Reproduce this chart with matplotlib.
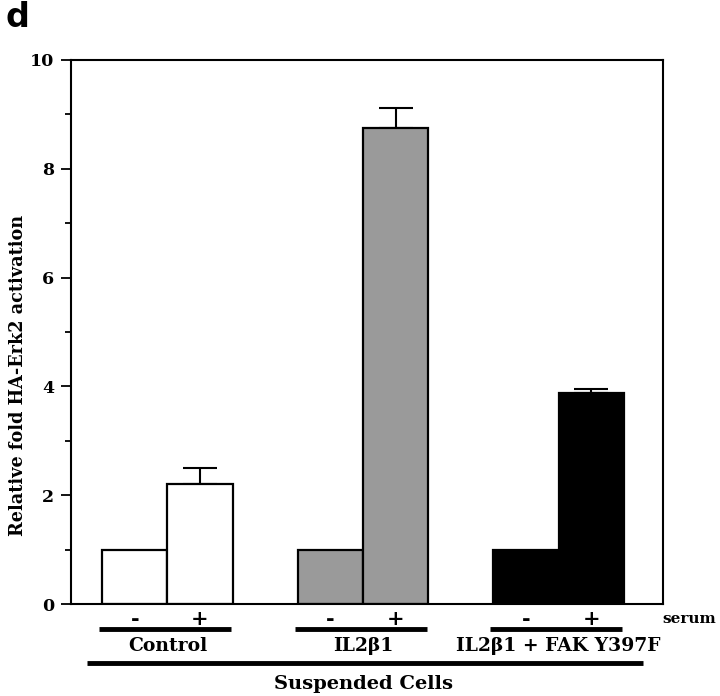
import numpy as np
import matplotlib.pyplot as plt
import matplotlib.transforms as mtransforms

groups = ["Control", "IL2\u03b21", "IL2\u03b21 + FAK Y397F"]
serum = ["-", "+", "-", "+", "-", "+"]
values = [1.0, 2.2, 1.0, 8.75, 1.0, 3.88]
err_up = [0.0, 0.3, 0.0, 0.37, 0.0, 0.07]
colors = ["white", "white", "#9a9a9a", "#9a9a9a", "black", "black"]
positions = [1, 2, 4, 5, 7, 8]

plt.rcParams['font.family'] = ['DejaVu Serif']
plt.rcParams['font.weight'] = 'bold'

fig = plt.figure(figsize=(7.2, 6.96), dpi=100)
ax = fig.add_axes([0.0986, 0.132, 0.822, 0.782])

for i in range(len(values)):
    if err_up[i] > 0:
        ax.errorbar(positions[i], values[i], yerr=[[0], [err_up[i]]], fmt='none',
                    ecolor='black', elinewidth=1.5, capsize=12.5, capthick=1.5, zorder=1)
ax.bar(positions, values, width=1.0, color=colors, edgecolor='black', linewidth=1.6, zorder=2)

ax.set_xlim(0.02, 9.1)
ax.set_ylim(0, 10)
ax.set_yticks([0, 2, 4, 6, 8, 10])
ax.set_yticks([1, 3, 5, 7, 9], minor=True)
ax.set_xticks([])
ax.tick_params(axis='y', which='major', length=7, width=1.3, labelsize=12.5, pad=5)
ax.tick_params(axis='y', which='minor', length=4, width=1.3)
for lab in ax.get_yticklabels():
    lab.set_fontweight('bold')
for s in ax.spines.values():
    s.set_linewidth(1.5)
ax.set_ylabel("Relative fold HA-Erk2 activation", fontsize=12.7, fontweight='bold')
ax.yaxis.set_label_coords(-0.074, 0.42)

tr = mtransforms.blended_transform_factory(ax.transData, ax.transAxes)
for p, s in zip(positions, serum):
    ax.text(p, -0.027, s, transform=tr, ha='center', va='center', fontsize=15, fontweight='bold')
ax.text(9.1, -0.027, "serum", transform=tr, ha='left', va='center', fontsize=11, fontweight='bold')

for g, name in enumerate(groups):
    a, b = positions[2 * g], positions[2 * g + 1]
    ax.plot([a - 0.55, b + 0.48], [-0.046, -0.046], transform=tr, color='black', lw=3.5,
            clip_on=False, solid_capstyle='butt')
    ax.text((a + b) / 2, -0.077, name, transform=tr, ha='center', va='center',
            fontsize=13.5, fontweight='bold')

ax.plot([0.26, 8.79], [-0.109, -0.109], transform=tr, color='black', lw=3.5,
        clip_on=False, solid_capstyle='butt')
ax.text(4.5, -0.147, "Suspended Cells", transform=tr, ha='center', va='center',
        fontsize=14, fontweight='bold')

fig.text(0.008, 0.975, "d", fontsize=24, fontweight='bold', family='DejaVu Sans', va='center')

fig.savefig("out.png", dpi=100)
